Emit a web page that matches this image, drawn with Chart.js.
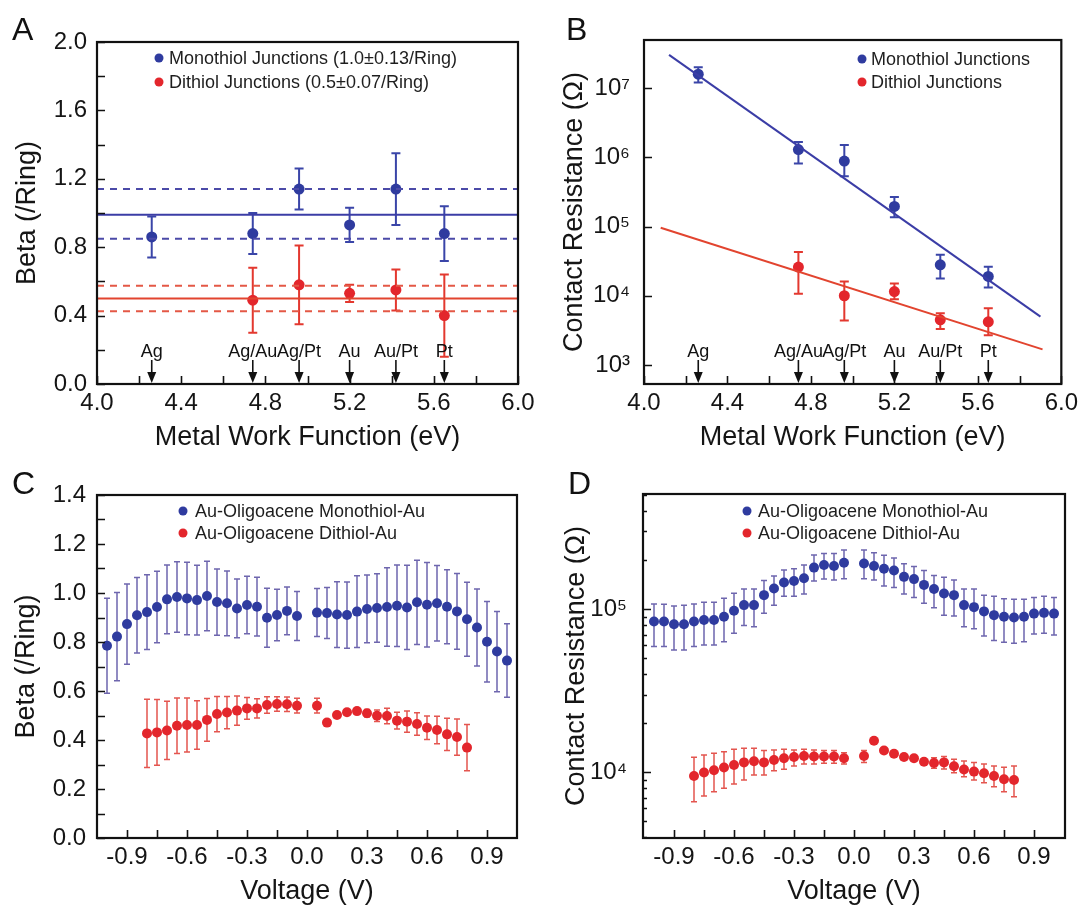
<!DOCTYPE html>
<html>
<head>
<meta charset="utf-8">
<script src="https://cdn.jsdelivr.net/npm/chart.js@4.4.1/dist/chart.umd.min.js"></script>
<style>
  body { margin: 0; background: #fff; }
  #fig { position: relative; width: 1083px; height: 908px; font-family: "Liberation Sans", Arial, sans-serif; }
  canvas { position: absolute; }
  .tag { position: absolute; font-size: 32px; line-height: 32px; color: #111; }
</style>
</head>
<body>
<div id="fig">
  <canvas id="cA" width="541" height="454" style="left:0;top:0"></canvas>
  <canvas id="cB" width="542" height="454" style="left:541px;top:0"></canvas>
  <canvas id="cC" width="541" height="454" style="left:0;top:454px"></canvas>
  <canvas id="cD" width="542" height="454" style="left:541px;top:454px"></canvas>
  <div class="tag" style="left:12px;top:13px">A</div>
  <div class="tag" style="left:566px;top:13px">B</div>
  <div class="tag" style="left:12px;top:467px">C</div>
  <div class="tag" style="left:568px;top:467px">D</div>
</div>
<script>
// --- panels A / B : metal work function ---
const METALS = ["Ag", "Ag/Au", "Ag/Pt", "Au", "Au/Pt", "Pt"];
const WF = [4.26, 4.74, 4.96, 5.20, 5.42, 5.65];

const A_MONO = [0.86, 0.88, 1.14, 0.93, 1.14, 0.88];
const A_MONO_ERR = [0.12, 0.12, 0.12, 0.10, 0.21, 0.16];
const A_DI = [null, 0.49, 0.58, 0.53, 0.55, 0.40];
const A_DI_ERR = [null, 0.19, 0.23, 0.05, 0.12, 0.24];
const A_MONO_FIT = [0.99, 0.85, 1.14];   // mean, lower, upper
const A_DI_FIT = [0.50, 0.425, 0.575];

const B_MONO = [1.58e7, 1.29e6, 8.8e5, 1.95e5, 2.8e4, 1.9e4];
const B_MONO_LO = [1.2e7, 8.1e5, 5.3e5, 1.36e5, 1.78e4, 1.32e4];
const B_MONO_HI = [2.0e7, 1.66e6, 1.5e6, 2.66e5, 3.9e4, 2.63e4];
const B_DI = [null, 2.6e4, 1.0e4, 1.15e4, 4.5e3, 4.2e3];
const B_DI_LO = [null, 1.07e4, 4.4e3, 8.9e3, 3.3e3, 2.7e3];
const B_DI_HI = [null, 4.3e4, 1.6e4, 1.5e4, 5.6e3, 6.6e3];
const B_MONO_FIT_X = [4.12, 5.90];
const B_MONO_FIT_Y = [3.0e7, 5.0e3];
const B_DI_FIT_X = [4.08, 5.91];
const B_DI_FIT_Y = [9.6e4, 1.68e3];

// --- panels C / D : voltage ---
const V_MONO = [-1.00, -0.95, -0.90, -0.85, -0.80, -0.75, -0.70, -0.65, -0.60, -0.55,
  -0.50, -0.45, -0.40, -0.35, -0.30, -0.25, -0.20, -0.15, -0.10, -0.05,
  0.05, 0.10, 0.15, 0.20, 0.25, 0.30, 0.35, 0.40, 0.45, 0.50,
  0.55, 0.60, 0.65, 0.70, 0.75, 0.80, 0.85, 0.90, 0.95, 1.00];
const V_DI = [-0.80, -0.75, -0.70, -0.65, -0.60, -0.55, -0.50, -0.45, -0.40, -0.35,
  -0.30, -0.25, -0.20, -0.15, -0.10, -0.05,
  0.05, 0.10, 0.15, 0.20, 0.25, 0.30, 0.35, 0.40, 0.45, 0.50,
  0.55, 0.60, 0.65, 0.70, 0.75, 0.80];

const C_MONO = [0.785, 0.822, 0.873, 0.909, 0.922, 0.943, 0.974, 0.984, 0.978, 0.971,
  0.988, 0.963, 0.958, 0.937, 0.951, 0.944, 0.899, 0.910, 0.927, 0.906,
  0.920, 0.918, 0.912, 0.910, 0.924, 0.935, 0.939, 0.943, 0.948, 0.941,
  0.962, 0.952, 0.958, 0.944, 0.925, 0.893, 0.859, 0.801, 0.761, 0.724];
const C_MONO_ERR = [0.194, 0.180, 0.164, 0.154, 0.153, 0.146, 0.140, 0.144, 0.148, 0.142,
  0.142, 0.135, 0.132, 0.120, 0.117, 0.120, 0.120, 0.105, 0.097, 0.100,
  0.098, 0.104, 0.134, 0.135, 0.146, 0.138, 0.140, 0.160, 0.166, 0.172,
  0.172, 0.172, 0.154, 0.151, 0.155, 0.151, 0.157, 0.164, 0.164, 0.150];
const C_DI = [0.427, 0.431, 0.439, 0.458, 0.461, 0.461, 0.482, 0.506, 0.512, 0.520,
  0.529, 0.529, 0.543, 0.547, 0.546, 0.540,
  0.540, 0.471, 0.502, 0.513, 0.518, 0.509, 0.499, 0.498, 0.479, 0.475,
  0.465, 0.450, 0.441, 0.423, 0.412, 0.369];
const C_DI_ERR = [0.139, 0.134, 0.119, 0.113, 0.110, 0.099, 0.087, 0.072, 0.066, 0.060,
  0.044, 0.039, 0.034, 0.030, 0.030, 0.030,
  0.030, 0.008, 0.010, 0.010, 0.010, 0.015, 0.023, 0.032, 0.034, 0.043,
  0.046, 0.048, 0.056, 0.066, 0.074, 0.094];

const D_MONO = [8.4e4, 8.4e4, 8.1e4, 8.1e4, 8.4e4, 8.6e4, 8.6e4, 9.0e4, 9.8e4, 1.06e5,
  1.06e5, 1.22e5, 1.34e5, 1.46e5, 1.49e5, 1.55e5, 1.80e5, 1.87e5, 1.84e5, 1.93e5,
  1.91e5, 1.84e5, 1.77e5, 1.73e5, 1.58e5, 1.53e5, 1.41e5, 1.33e5, 1.25e5, 1.22e5,
  1.06e5, 1.03e5, 9.7e4, 9.2e4, 9.0e4, 8.9e4, 9.0e4, 9.4e4, 9.5e4, 9.4e4];
const D_MONO_HI = [1.078e5, 1.073e5, 1.048e5, 1.057e5, 1.078e5, 1.104e5, 1.104e5, 1.167e5, 1.253e5, 1.33e5,
  1.33e5, 1.50e5, 1.60e5, 1.74e5, 1.77e5, 1.87e5, 2.15e5, 2.20e5, 2.20e5, 2.31e5,
  2.31e5, 2.22e5, 2.14e5, 2.06e5, 1.90e5, 1.83e5, 1.73e5, 1.61e5, 1.57e5, 1.51e5,
  1.33e5, 1.33e5, 1.22e5, 1.20e5, 1.16e5, 1.15e5, 1.15e5, 1.18e5, 1.20e5, 1.18e5];
const D_MONO_LO = [5.91e4, 5.91e4, 5.63e4, 5.63e4, 5.91e4, 6.04e4, 6.04e4, 6.33e4, 7.12e4, 7.94e4,
  7.82e4, 9.45e4, 1.057e5, 1.20e5, 1.20e5, 1.24e5, 1.49e5, 1.53e5, 1.51e5, 1.54e5,
  1.54e5, 1.51e5, 1.39e5, 1.36e5, 1.24e5, 1.18e5, 1.09e5, 1.02e5, 9.2e4, 9.1e4,
  7.82e4, 7.6e4, 6.86e4, 6.43e4, 6.27e4, 6.18e4, 6.33e4, 7.05e4, 7.12e4, 6.95e4];
const D_DI = [9.5e3, 9.98e3, 1.03e4, 1.07e4, 1.11e4, 1.15e4, 1.17e4, 1.15e4, 1.19e4, 1.22e4,
  1.24e4, 1.26e4, 1.25e4, 1.25e4, 1.25e4, 1.22e4,
  1.26e4, 1.56e4, 1.36e4, 1.30e4, 1.24e4, 1.22e4, 1.16e4, 1.14e4, 1.15e4, 1.09e4,
  1.04e4, 1.01e4, 9.86e3, 9.5e3, 9.06e3, 8.98e3];
const D_DI_HI = [1.236e4, 1.277e4, 1.309e4, 1.339e4, 1.384e4, 1.404e4, 1.404e4, 1.359e4, 1.371e4, 1.384e4,
  1.371e4, 1.384e4, 1.371e4, 1.359e4, 1.359e4, 1.32e4,
  1.359e4, null, null, null, null, null, 1.21e4, 1.23e4, 1.248e4, 1.202e4,
  1.174e4, 1.147e4, 1.125e4, 1.094e4, 1.074e4, 1.094e4];
const D_DI_LO = [6.61e3, 7.16e3, 7.61e3, 7.98e3, 8.48e3, 8.97e3, 9.63e3, 9.63e3, 1.024e4, 1.043e4,
  1.094e4, 1.125e4, 1.125e4, 1.136e4, 1.136e4, 1.125e4,
  1.147e4, null, null, null, null, null, 1.11e4, 1.058e4, 1.048e4, 9.95e3,
  9.40e3, 8.97e3, 8.64e3, 8.16e3, 7.61e3, 7.09e3];

// --- tick positions and labels ---
const WF_TICKS = [4.0, 4.2, 4.4, 4.6, 4.8, 5.0, 5.2, 5.4, 5.6, 5.8, 6.0];
const WF_LABELS = [4.0, 4.4, 4.8, 5.2, 5.6, 6.0];
const A_Y_TICKS = [0, 0.2, 0.4, 0.6, 0.8, 1.0, 1.2, 1.4, 1.6, 1.8, 2.0];
const A_Y_LABELS = [0, 0.4, 0.8, 1.2, 1.6, 2.0];
const B_Y_TICKS = [1e3, 1e4, 1e5, 1e6, 1e7];
const V_TICKS = [-0.9, -0.75, -0.6, -0.45, -0.3, -0.15, 0, 0.15, 0.3, 0.45, 0.6, 0.75, 0.9];
const V_LABELS = [-0.9, -0.6, -0.3, 0, 0.3, 0.6, 0.9];
const C_Y_TICKS = [0, 0.1, 0.2, 0.3, 0.4, 0.5, 0.6, 0.7, 0.8, 0.9, 1.0, 1.1, 1.2, 1.3, 1.4];
const C_Y_LABELS = [0, 0.2, 0.4, 0.6, 0.8, 1.0, 1.2, 1.4];
const D_Y_TICKS = [4e3, 5e3, 6e3, 7e3, 8e3, 9e3, 1e4, 2e4, 3e4, 4e4, 5e4, 6e4, 7e4, 8e4, 9e4,
  1e5, 2e5, 3e5, 4e5, 5e5];

const BLUE = "#2f3b9f";
const RED = "#e3262c";
const FONT = "'Liberation Sans', Arial, sans-serif";
const SUP = { 3: "\u00b3", 4: "\u2074", 5: "\u2075", 6: "\u2076", 7: "\u2077" };

Chart.defaults.font.family = FONT;
Chart.defaults.color = "#151515";
Chart.defaults.animation = false;

const near = (list, v) => list.some((l) => Math.abs(l - v) < 1e-9);
const isDecade = (v) => Math.abs(Math.log10(v) - Math.round(Math.log10(v))) < 1e-9;
const decadeLabel = (v) => (isDecade(v) ? "10" + SUP[Math.round(Math.log10(v))] : "");

function points(xs, ys, lo, hi) {
  const out = [];
  xs.forEach((x, i) => {
    if (ys[i] == null) return;
    out.push({ x, y: ys[i], lo: lo[i], hi: hi[i] });
  });
  return out;
}
const symLo = (ys, err) => ys.map((y, i) => (y == null ? null : y - err[i]));
const symHi = (ys, err) => ys.map((y, i) => (y == null ? null : y + err[i]));

function scatterSet(label, data, color, errColor, radius, cap, errWidth) {
  return {
    type: "scatter", label, data, legend: true,
    backgroundColor: color, borderWidth: 0,
    pointRadius: radius, pointHoverRadius: radius,
    errColor, cap, errWidth,
  };
}
function lineSet(xs, ys, color, dash) {
  return {
    type: "line", data: xs.map((x, i) => ({ x, y: ys[i] })),
    borderColor: color, borderWidth: 2, borderDash: dash || [],
    pointRadius: 0, fill: false, tension: 0,
  };
}

// error bars drawn from each point's lo/hi through the y scale
const errorBars = {
  id: "errorBars",
  beforeDatasetsDraw(chart) {
    const { ctx } = chart;
    const ys = chart.scales.y;
    chart.data.datasets.forEach((ds, i) => {
      if (!ds.errColor) return;
      const meta = chart.getDatasetMeta(i);
      ctx.save();
      ctx.strokeStyle = ds.errColor;
      ctx.lineWidth = ds.errWidth;
      meta.data.forEach((pt, j) => {
        const d = ds.data[j];
        if (d.lo == null || d.hi == null) return;
        const y1 = ys.getPixelForValue(d.lo);
        const y2 = ys.getPixelForValue(d.hi);
        const x = pt.x;
        ctx.beginPath();
        ctx.moveTo(x, y1); ctx.lineTo(x, y2);
        ctx.moveTo(x - ds.cap, y1); ctx.lineTo(x + ds.cap, y1);
        ctx.moveTo(x - ds.cap, y2); ctx.lineTo(x + ds.cap, y2);
        ctx.stroke();
      });
      ctx.restore();
    });
  },
};

// box round the plot and inward tick marks
const frame = {
  id: "frame",
  afterDraw(chart) {
    const { ctx, chartArea: a } = chart;
    const xs = chart.scales.x;
    const ys = chart.scales.y;
    ctx.save();
    ctx.strokeStyle = "#111";
    ctx.lineWidth = 1.6;
    ctx.beginPath();
    xs.ticks.forEach((t) => {
      const p = Math.round(xs.getPixelForValue(t.value)) + 0.5;
      ctx.moveTo(p, a.bottom); ctx.lineTo(p, a.bottom - 8);
    });
    ys.ticks.forEach((t) => {
      const p = Math.round(ys.getPixelForValue(t.value)) + 0.5;
      ctx.moveTo(a.left, p); ctx.lineTo(a.left + (t.minor ? 4 : 8), p);
    });
    ctx.stroke();
    ctx.lineWidth = 2.2;
    ctx.strokeRect(a.left, a.top, a.right - a.left, a.bottom - a.top);
    ctx.restore();
  },
};

function insideLegend(dx, dotDx, rows) {
  return {
    id: "insideLegend",
    afterDraw(chart) {
      const { ctx, chartArea: a } = chart;
      ctx.save();
      ctx.font = "18px " + FONT;
      ctx.textBaseline = "middle";
      ctx.fillStyle = "#1e1e1e";
      let k = 0;
      chart.data.datasets.forEach((ds) => {
        if (!ds.legend) return;
        const y = a.top + rows[k++];
        ctx.fillStyle = ds.backgroundColor;
        ctx.beginPath();
        ctx.arc(a.left + dotDx, y, 4.5, 0, Math.PI * 2);
        ctx.fill();
        ctx.fillStyle = "#1e1e1e";
        ctx.fillText(ds.label, a.left + dx, y + 1);
      });
      ctx.restore();
    },
  };
}

const metalArrows = {
  id: "metalArrows",
  afterDatasetsDraw(chart) {
    const { ctx, chartArea: a } = chart;
    const xs = chart.scales.x;
    ctx.save();
    ctx.font = "18px " + FONT;
    ctx.textAlign = "center";
    ctx.textBaseline = "alphabetic";
    ctx.fillStyle = "#111";
    ctx.strokeStyle = "#111";
    ctx.lineWidth = 1.6;
    WF.forEach((v, i) => {
      const x = xs.getPixelForValue(v);
      ctx.fillText(METALS[i], x, a.bottom - 27);
      ctx.beginPath();
      ctx.moveTo(x, a.bottom - 24); ctx.lineTo(x, a.bottom - 9);
      ctx.stroke();
      ctx.beginPath();
      ctx.moveTo(x - 4.5, a.bottom - 12);
      ctx.lineTo(x + 4.5, a.bottom - 12);
      ctx.lineTo(x, a.bottom - 1);
      ctx.closePath();
      ctx.fill();
    });
    ctx.restore();
  },
};

function options(p) {
  return {
    responsive: false,
    devicePixelRatio: 1,
    layout: { padding: { top: p.top, right: p.right, left: 0, bottom: 0 }, autoPadding: false },
    plugins: { legend: { display: false }, tooltip: { enabled: false } },
    scales: {
      x: {
        type: "linear", min: p.xMin, max: p.xMax,
        afterFit: (s) => { s.height = 70; },
        afterBuildTicks: (s) => { s.ticks = p.xTicks.map((v) => ({ value: v })); },
        grid: { display: false, drawTicks: false },
        border: { display: false },
        ticks: {
          autoSkip: false, minRotation: 0, maxRotation: 0, padding: 5,
          font: { size: 24 }, color: "#151515",
          callback: (v) => (near(p.xLabels, v) ? v.toFixed(1) : ""),
        },
        title: { display: true, text: p.xTitle, font: { size: 27 }, color: "#151515", padding: { top: 0, bottom: 0 } },
      },
      y: {
        type: p.yType, min: p.yMin, max: p.yMax,
        afterFit: (s) => { s.width = p.yWidth; },
        afterBuildTicks: (s) => {
          s.ticks = p.yTicks.map((v) => ({ value: v, minor: p.yType === "logarithmic" && !isDecade(v) }));
        },
        grid: { display: false, drawTicks: false },
        border: { display: false },
        ticks: {
          autoSkip: false, padding: p.yPad,
          font: { size: 24 }, color: "#151515",
          callback: p.yLabel,
        },
        title: { display: true, text: p.yTitle, font: { size: 27 }, color: "#151515", padding: { top: p.yTitlePad, bottom: 0 } },
      },
    },
  };
}

// A
new Chart(document.getElementById("cA"), {
  type: "scatter",
  data: {
    datasets: [
      lineSet([4, 6], [A_MONO_FIT[0], A_MONO_FIT[0]], "#3b3da6"),
      lineSet([4, 6], [A_MONO_FIT[1], A_MONO_FIT[1]], "#4b4aa8", [7, 6]),
      lineSet([4, 6], [A_MONO_FIT[2], A_MONO_FIT[2]], "#4b4aa8", [7, 6]),
      lineSet([4, 6], [A_DI_FIT[0], A_DI_FIT[0]], "#e2442f"),
      lineSet([4, 6], [A_DI_FIT[1], A_DI_FIT[1]], "#e45846", [7, 6]),
      lineSet([4, 6], [A_DI_FIT[2], A_DI_FIT[2]], "#e45846", [7, 6]),
      scatterSet("Monothiol Junctions (1.0\u00b10.13/Ring)",
        points(WF, A_MONO, symLo(A_MONO, A_MONO_ERR), symHi(A_MONO, A_MONO_ERR)), BLUE, "#3a45a8", 5.5, 4.5, 2),
      scatterSet("Dithiol Junctions (0.5\u00b10.07/Ring)",
        points(WF, A_DI, symLo(A_DI, A_DI_ERR), symHi(A_DI, A_DI_ERR)), RED, "#e3382f", 5.5, 4.5, 2),
    ],
  },
  options: options({
    top: 42, right: 23, yWidth: 97, yPad: 10, yTitlePad: 11,
    xMin: 4.0, xMax: 6.0, xTicks: WF_TICKS, xLabels: WF_LABELS, xTitle: "Metal Work Function (eV)",
    yType: "linear", yMin: 0, yMax: 2.0, yTicks: A_Y_TICKS,
    yLabel: (v) => (near(A_Y_LABELS, v) ? v.toFixed(1) : ""), yTitle: "Beta (/Ring)",
  }),
  plugins: [errorBars, metalArrows, frame, insideLegend(72, 62, [16, 40])],
});

// B
new Chart(document.getElementById("cB"), {
  type: "scatter",
  data: {
    datasets: [
      lineSet(B_MONO_FIT_X, B_MONO_FIT_Y, "#3b3da6"),
      lineSet(B_DI_FIT_X, B_DI_FIT_Y, "#e2442f"),
      scatterSet("Monothiol Junctions", points(WF, B_MONO, B_MONO_LO, B_MONO_HI), BLUE, "#3a45a8", 5.5, 4.5, 2),
      scatterSet("Dithiol Junctions", points(WF, B_DI, B_DI_LO, B_DI_HI), RED, "#e3382f", 5.5, 4.5, 2),
    ],
  },
  options: options({
    top: 40, right: 17, yWidth: 103, yPad: 14, yTitlePad: 17,
    xMin: 4.0, xMax: 6.0, xTicks: WF_TICKS, xLabels: WF_LABELS, xTitle: "Metal Work Function (eV)",
    yType: "logarithmic", yMin: 532, yMax: 4.93e7, yTicks: B_Y_TICKS,
    yLabel: decadeLabel, yTitle: "Contact Resistance (\u03a9)",
  }),
  plugins: [errorBars, metalArrows, frame, insideLegend(227, 218, [19, 42])],
});

// C
new Chart(document.getElementById("cC"), {
  type: "scatter",
  data: {
    datasets: [
      scatterSet("Au-Oligoacene Monothiol-Au",
        points(V_MONO, C_MONO, symLo(C_MONO, C_MONO_ERR), symHi(C_MONO, C_MONO_ERR)), BLUE, "#6e66ae", 5, 3, 1.5),
      scatterSet("Au-Oligoacene Dithiol-Au",
        points(V_DI, C_DI, symLo(C_DI, C_DI_ERR), symHi(C_DI, C_DI_ERR)), RED, "#e4554f", 5, 3, 1.5),
    ],
  },
  options: options({
    top: 41, right: 24, yWidth: 97, yPad: 11, yTitlePad: 10,
    xMin: -1.05, xMax: 1.05, xTicks: V_TICKS, xLabels: V_LABELS, xTitle: "Voltage (V)",
    yType: "linear", yMin: 0, yMax: 1.4, yTicks: C_Y_TICKS,
    yLabel: (v) => (near(C_Y_LABELS, v) ? v.toFixed(1) : ""), yTitle: "Beta (/Ring)",
  }),
  plugins: [errorBars, frame, insideLegend(98, 86, [16, 38])],
});

// D
new Chart(document.getElementById("cD"), {
  type: "scatter",
  data: {
    datasets: [
      scatterSet("Au-Oligoacene Monothiol-Au", points(V_MONO, D_MONO, D_MONO_LO, D_MONO_HI), BLUE, "#6e66ae", 5, 3, 1.5),
      scatterSet("Au-Oligoacene Dithiol-Au", points(V_DI, D_DI, D_DI_LO, D_DI_HI), RED, "#e4554f", 5, 3, 1.5),
    ],
  },
  options: options({
    top: 40, right: 18, yWidth: 102, yPad: 16, yTitlePad: 19,
    xMin: -1.055, xMax: 1.055, xTicks: V_TICKS, xLabels: V_LABELS, xTitle: "Voltage (V)",
    yType: "logarithmic", yMin: 3955, yMax: 5.09e5, yTicks: D_Y_TICKS,
    yLabel: decadeLabel, yTitle: "Contact Resistance (\u03a9)",
  }),
  plugins: [errorBars, frame, insideLegend(115, 104, [17, 39])],
});
</script>
</body>
</html>
